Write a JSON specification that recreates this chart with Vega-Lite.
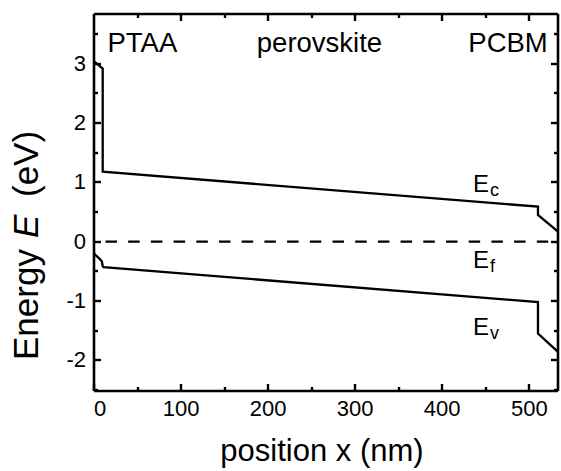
{
  "$schema": "https://vega.github.io/schema/vega-lite/v6.json",
  "width": 464,
  "height": 377,
  "autosize": "none",
  "padding": {"left": 94, "top": 14, "right": 3, "bottom": 80},
  "background": "white",
  "config": {
    "view": {"stroke": null},
    "font": "Liberation Sans",
    "axis": {
      "grid": false,
      "translate": 0,
      "domainColor": "black",
      "domainWidth": 2.6,
      "domainOpacity": 1,
      "tickColor": "black",
      "tickWidth": 2.4,
      "tickOpacity": 1,
      "labelColor": "black",
      "titleColor": "black",
      "labelFont": "Liberation Sans",
      "titleFont": "Liberation Sans",
      "titleFontWeight": "normal"
    }
  },
  "datasets": {
    "bands": [
      {"band": "Ec", "i": 0, "x": 0, "E": 3.04},
      {"band": "Ec", "i": 1, "x": 10, "E": 2.92},
      {"band": "Ec", "i": 2, "x": 10, "E": 1.18},
      {"band": "Ec", "i": 3, "x": 510, "E": 0.59},
      {"band": "Ec", "i": 4, "x": 510, "E": 0.45},
      {"band": "Ec", "i": 5, "x": 533, "E": 0.17},
      {"band": "Ev", "i": 0, "x": 0, "E": -0.2},
      {"band": "Ev", "i": 1, "x": 7, "E": -0.3},
      {"band": "Ev", "i": 2, "x": 9, "E": -0.33},
      {"band": "Ev", "i": 3, "x": 10, "E": -0.41},
      {"band": "Ev", "i": 4, "x": 11, "E": -0.43},
      {"band": "Ev", "i": 5, "x": 510, "E": -1.02},
      {"band": "Ev", "i": 6, "x": 510, "E": -1.55},
      {"band": "Ev", "i": 7, "x": 533, "E": -1.86}
    ],
    "fermi": [{"x": 0, "x2": 533, "E": 0}],
    "layers": [
      {"x": 55.6, "E": 3.2, "name": "PTAA"},
      {"x": 259, "E": 3.2, "name": "perovskite"},
      {"x": 475.6, "E": 3.2, "name": "PCBM"}
    ],
    "levels": [
      {"x": 435.4, "E": 0.837, "main": "E", "sub": "c"},
      {"x": 435.4, "E": -0.445, "main": "E", "sub": "f"},
      {"x": 435.4, "E": -1.576, "main": "E", "sub": "v"}
    ]
  },
  "layer": [
    {
      "data": {"name": "bands"},
      "mark": {"type": "line", "color": "black", "strokeWidth": 2.3},
      "encoding": {
        "x": {
          "field": "x", "type": "quantitative",
          "scale": {"domain": [0, 533], "nice": false, "zero": false},
          "axis": {
            "orient": "bottom", "values": [0, 100, 200, 300, 400, 500],
            "tickSize": -7, "labelFontSize": 22, "labelPadding": 15,
            "labelExpr": "'' + datum.value",
            "title": "position x (nm)", "titleFontSize": 31,
            "titleX": 228, "titleY": 70, "titleBaseline": "alphabetic", "titleAlign": "center"
          }
        },
        "y": {
          "field": "E", "type": "quantitative",
          "scale": {"domain": [-2.52, 3.84], "nice": false, "zero": false},
          "axis": {
            "orient": "left", "values": [-2, -1, 0, 1, 2, 3],
            "tickSize": -7, "labelFontSize": 22, "labelPadding": 15,
            "labelExpr": "'' + datum.value",
            "title": "Energy", "titleFontSize": 35, "titleAngle": 270,
            "titleX": -56, "titleY": 346, "titleAlign": "left", "titleBaseline": "alphabetic"
          }
        },
        "detail": {"field": "band"},
        "order": {"field": "i", "type": "quantitative"}
      }
    },
    {
      "data": {"name": "fermi"},
      "mark": {"type": "rule", "color": "black", "strokeWidth": 2.3, "strokeDash": [11.5, 11.2], "strokeDashOffset": 11.2},
      "encoding": {
        "x": {
          "field": "x", "type": "quantitative",
          "axis": {"orient": "top", "values": [100, 200, 300, 400, 500], "tickSize": -7, "labels": false, "title": null}
        },
        "x2": {"field": "x2"},
        "y": {
          "field": "E", "type": "quantitative",
          "axis": {"orient": "right", "values": [-2, -1, 0, 1, 2, 3], "tickSize": -7, "labels": false, "title": null}
        }
      }
    },
    {
      "data": {"name": "layers"},
      "mark": {"type": "text", "fontSize": 27.5, "align": "center", "baseline": "alphabetic", "color": "black", "font": "Liberation Sans"},
      "encoding": {
        "x": {
          "field": "x", "type": "quantitative",
          "axis": {"orient": "bottom", "values": [50, 150, 250, 350, 450], "tickSize": -4, "labels": false, "domain": false, "title": null}
        },
        "y": {
          "field": "E", "type": "quantitative",
          "axis": {
            "orient": "left", "values": [-2.5, -1.5, -0.5, 0.5, 1.5, 2.5, 3.5], "tickSize": -4, "labels": false, "domain": false,
            "title": "E", "titleFontSize": 35, "titleFontStyle": "italic", "titleAngle": 270,
            "titleX": -56, "titleY": 224, "titleAlign": "left", "titleBaseline": "alphabetic"
          }
        },
        "text": {"field": "name"}
      }
    },
    {
      "data": {"name": "levels"},
      "mark": {"type": "text", "fontSize": 24, "align": "left", "baseline": "alphabetic", "color": "black", "font": "Liberation Sans"},
      "encoding": {
        "x": {
          "field": "x", "type": "quantitative",
          "axis": {"orient": "top", "values": [50, 150, 250, 350, 450], "tickSize": -4, "labels": false, "domain": false, "title": null}
        },
        "y": {
          "field": "E", "type": "quantitative",
          "axis": {"orient": "right", "values": [-2.5, -1.5, -0.5, 0.5, 1.5, 2.5, 3.5], "tickSize": -4, "labels": false, "domain": false, "title": null}
        },
        "text": {"field": "main"}
      }
    },
    {
      "data": {"name": "levels"},
      "mark": {"type": "text", "fontSize": 18, "align": "left", "baseline": "alphabetic", "dx": 17, "dy": 4, "color": "black", "font": "Liberation Sans"},
      "encoding": {
        "x": {"field": "x", "type": "quantitative", "axis": null},
        "y": {
          "field": "E", "type": "quantitative",
          "axis": {
            "orient": "left", "values": [], "ticks": false, "labels": false, "domain": false,
            "title": "(eV)", "titleFontSize": 35, "titleAngle": 270,
            "titleX": -56, "titleY": 183, "titleAlign": "left", "titleBaseline": "alphabetic"
          }
        },
        "text": {"field": "sub"}
      }
    }
  ],
  "resolve": {"axis": {"x": "independent", "y": "independent"}}
}
